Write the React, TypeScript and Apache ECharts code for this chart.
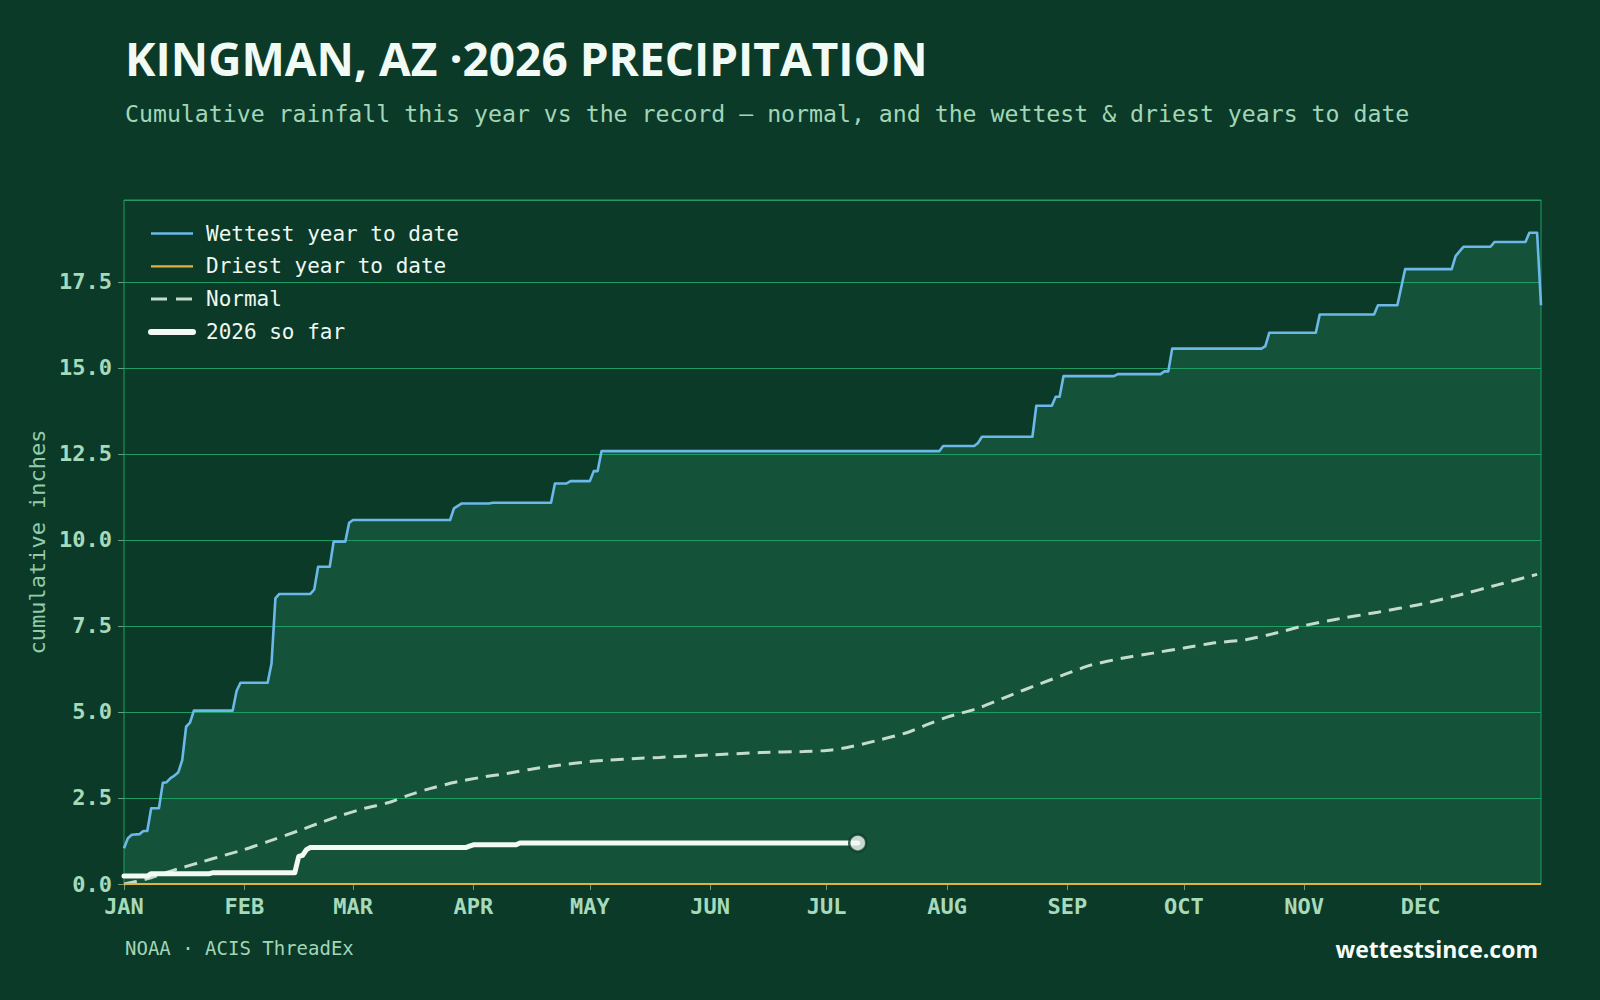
import React, { useEffect, useRef } from "react";
import * as echarts from "echarts";

// Day-of-year (0 = Jan 1) and cumulative inches
const WETTEST: [number, number][] = [
  [0, 1.04], [1, 1.33], [2, 1.43], [4, 1.45], [5, 1.54], [6, 1.54], [7, 2.2], [9, 2.2],
  [10, 2.94], [11, 2.96], [12, 3.08], [13, 3.15], [14, 3.25], [15, 3.6], [16, 4.57], [17, 4.69],
  [18, 5.04], [28, 5.04], [29, 5.61], [30, 5.85], [37, 5.85], [38, 6.41], [39, 8.3], [40, 8.43],
  [48, 8.43], [49, 8.56], [50, 9.22], [53, 9.22], [54, 9.95], [57, 9.95], [58, 10.5], [59, 10.58],
  [84, 10.58], [85, 10.92], [87, 11.06], [94, 11.06], [95, 11.08], [110, 11.08], [111, 11.64],
  [114, 11.64], [115, 11.71], [120, 11.71], [121, 12.0], [122, 12.0], [123, 12.58], [210, 12.58],
  [211, 12.73], [219, 12.73], [220, 12.82], [221, 13.0], [234, 13.0], [235, 13.9], [239, 13.9],
  [240, 14.16], [241, 14.16], [242, 14.76], [255, 14.76], [256, 14.82], [267, 14.82], [268, 14.9],
  [269, 14.9], [270, 15.56], [293, 15.56], [294, 15.63], [295, 16.02], [307, 16.02], [308, 16.55],
  [322, 16.55], [323, 16.82], [328, 16.82], [330, 17.87], [342, 17.87], [343, 18.25], [345, 18.52],
  [352, 18.52], [353, 18.66], [361, 18.66], [362, 18.93], [364, 18.93], [365, 16.82],
];

const DRIEST: [number, number][] = [
  [0, 0], [365, 0],
];

const NORMAL: [number, number][] = [
  [0, 0.0], [6, 0.15], [13, 0.41], [20, 0.64], [26, 0.84], [31, 1.0], [37, 1.23], [45, 1.55],
  [51, 1.8], [55, 1.96], [62, 2.2], [68, 2.36], [73, 2.57], [79, 2.78], [85, 2.95], [92, 3.1],
  [99, 3.22], [106, 3.36], [112, 3.45], [120, 3.56], [125, 3.6], [132, 3.65], [138, 3.68],
  [151, 3.75], [164, 3.82], [175, 3.85], [181, 3.88], [186, 3.96], [194, 4.17], [202, 4.41],
  [207, 4.64], [212, 4.85], [220, 5.11], [228, 5.47], [236, 5.82], [243, 6.12], [249, 6.36],
  [257, 6.56], [265, 6.71], [273, 6.86], [281, 7.01], [289, 7.1], [297, 7.3], [304, 7.51],
  [312, 7.69], [323, 7.9], [334, 8.13], [344, 8.4], [354, 8.7], [364, 9.0],
];

const THIS_YEAR: [number, number][] = [
  [0, 0.23], [6, 0.23], [7, 0.3], [22, 0.3], [23, 0.33], [44, 0.33], [45, 0.8], [46, 0.83],
  [47, 1.0], [48, 1.06], [88, 1.06], [89, 1.1], [90, 1.14], [101, 1.14], [102, 1.19], [189, 1.19],
];

const MONTHS = ["JAN", "FEB", "MAR", "APR", "MAY", "JUN", "JUL", "AUG", "SEP", "OCT", "NOV", "DEC"];
const MONTH_START_DAYS = [0, 31, 59, 90, 120, 151, 181, 212, 243, 273, 304, 334];

const SERIES_NAMES = ["Wettest year to date", "Driest year to date", "Normal", "2026 so far"];

const BG = "#0b3a29";
const FILL = "#14523a";
const GRID = "#1e9d63";
const TICK = "#6f9a83";
const LABEL = "#a6dabb";
const MONO = "'DejaVu Sans Mono', monospace";
const SANS = "'Open Sans', 'Noto Sans', sans-serif";

const WET_COLOR = "#6cb8e8";
const DRY_COLOR = "#e2b23e";
const NORMAL_COLOR = "#c4dccb";
const NOW_COLOR = "#f3faf5";

export default function App() {
  const ref = useRef<HTMLDivElement>(null);

  useEffect(() => {
    if (!ref.current) return;
    const chart = echarts.init(ref.current, null, { renderer: "svg" });
    const last = THIS_YEAR[THIS_YEAR.length - 1];

    chart.setOption({
      animation: false,
      backgroundColor: BG,
      grid: {
        left: 124,
        top: 200,
        width: 1417,
        height: 684,
        show: true,
        backgroundColor: "transparent",
        borderColor: GRID,
        borderWidth: 1,
        z: 1.5,
      },
      legend: {
        data: [
          { name: SERIES_NAMES[0], lineStyle: { width: 2.4 } },
          { name: SERIES_NAMES[1], lineStyle: { width: 2.2 } },
          { name: SERIES_NAMES[2], lineStyle: { width: 3, type: [16, 9] } },
          { name: SERIES_NAMES[3], lineStyle: { width: 6, cap: "round" } },
        ],
        orient: "vertical",
        left: 148,
        top: 223,
        padding: 0,
        itemWidth: 42,
        itemHeight: 14,
        itemGap: 11.8,
        selectedMode: false,
        itemStyle: { opacity: 0 },
        lineStyle: { width: "inherit" },
        textStyle: {
          color: "#eef8f1",
          fontFamily: MONO,
          fontSize: 21,
          lineHeight: 21,
          padding: [0, 0, 0, 8],
        },
      },
      xAxis: {
        type: "value",
        min: 0,
        max: 365,
        z: 1.5,
        axisLine: { show: false },
        splitLine: { show: false },
        axisTick: {
          show: true,
          length: 6,
          lineStyle: { color: TICK, width: 1 },
          customValues: MONTH_START_DAYS,
        },
        axisLabel: {
          customValues: MONTH_START_DAYS,
          formatter: (v: number) => MONTHS[MONTH_START_DAYS.indexOf(Math.round(v))] ?? "",
          color: LABEL,
          fontFamily: MONO,
          fontWeight: "bold",
          fontSize: 22,
          margin: 11,
        },
      },
      yAxis: {
        type: "value",
        min: 0,
        max: 19.88,
        interval: 2.5,
        z: 1.5,
        name: "cumulative inches",
        nameLocation: "middle",
        nameGap: 75,
        nameTextStyle: { color: "#94cba8", fontFamily: MONO, fontSize: 22 },
        axisLine: { show: false },
        axisTick: { show: true, length: 6, lineStyle: { color: TICK, width: 1 } },
        axisLabel: {
          formatter: (v: number) => v.toFixed(1),
          showMaxLabel: false,
          color: LABEL,
          fontFamily: MONO,
          fontWeight: "bold",
          fontSize: 22,
          margin: 12,
        },
        splitLine: { show: true, lineStyle: { color: GRID, width: 1.2 } },
      },
      series: [
        {
          name: "wettest-fill",
          type: "line",
          data: WETTEST,
          z: 1,
          symbol: "none",
          silent: true,
          lineStyle: { width: 0 },
          areaStyle: { color: FILL, opacity: 1 },
        },
        {
          name: SERIES_NAMES[2],
          type: "line",
          data: NORMAL,
          z: 3,
          symbol: "none",
          smooth: 0.2,
          lineStyle: { color: NORMAL_COLOR, width: 3, type: [13, 8] },
          itemStyle: { color: NORMAL_COLOR },
        },
        {
          name: SERIES_NAMES[1],
          type: "line",
          data: DRIEST,
          z: 4,
          symbol: "none",
          lineStyle: { color: DRY_COLOR, width: 2 },
          itemStyle: { color: DRY_COLOR },
        },
        {
          name: SERIES_NAMES[0],
          type: "line",
          data: WETTEST,
          z: 5,
          symbol: "none",
          lineStyle: { color: WET_COLOR, width: 2.6, join: "round" },
          itemStyle: { color: WET_COLOR },
        },
        {
          name: SERIES_NAMES[3],
          type: "line",
          data: THIS_YEAR,
          z: 6,
          symbol: "none",
          lineStyle: { color: NOW_COLOR, width: 5, cap: "round", join: "round" },
          itemStyle: { color: NOW_COLOR },
        },
        {
          name: "today",
          type: "scatter",
          data: [last],
          z: 7,
          symbol: "circle",
          symbolSize: 17,
          silent: true,
          itemStyle: { color: NOW_COLOR, borderColor: BG, borderWidth: 2.5 },
        },
      ],
      graphic: [
        {
          type: "text",
          x: 125,
          y: 58.3,
          style: {
            text: "KINGMAN, AZ ·2026 PRECIPITATION",
            font: `bold 46px ${SANS}`,
            fill: "#f1faf4",
            verticalAlign: "middle",
          },
        },
        {
          type: "text",
          x: 125,
          y: 113.5,
          style: {
            text: "Cumulative rainfall this year vs the record — normal, and the wettest & driest years to date",
            font: `23.2px ${MONO}`,
            fill: "#a2d6b6",
            verticalAlign: "middle",
          },
        },
        {
          type: "text",
          x: 125,
          y: 948,
          style: {
            text: "NOAA · ACIS ThreadEx",
            font: `19px ${MONO}`,
            fill: "#a2d6b6",
            verticalAlign: "middle",
          },
        },
        {
          type: "text",
          x: 1538,
          y: 949,
          style: {
            text: "wettestsince.com",
            font: `bold 23px ${SANS}`,
            fill: "#f6fcf8",
            align: "right",
            verticalAlign: "middle",
          },
        },
      ],
    });

    return () => chart.dispose();
  }, []);

  return (
    <div
      ref={ref}
      style={{ position: "fixed", left: 0, top: 0, width: 1600, height: 1000 }}
    />
  );
}
